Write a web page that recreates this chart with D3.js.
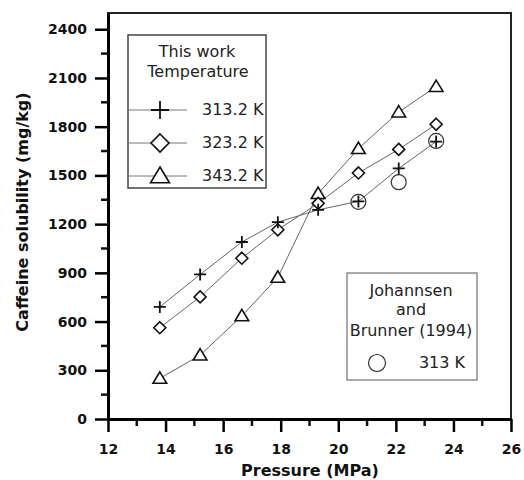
<!DOCTYPE html>
<html>
<head>
<meta charset="utf-8">
<script src="https://cdn.jsdelivr.net/npm/d3@7"></script>
<style>
  body { margin: 0; background: #fff; }
  svg { display: block; font-family: "DejaVu Sans", sans-serif; }
</style>
</head>
<body>
<div id="chart"></div>
<script>
// ── Data ───────────────────────────────────────────────────
var pressure = [13.8, 15.2, 16.65, 17.9, 19.3, 20.7, 22.1, 23.4];
var sol313 = [690, 890, 1090, 1212, 1288, 1340, 1543, 1708];
var sol323 = [562, 752, 990, 1165, 1328, 1515, 1660, 1815];
var sol343 = [250, 393, 635, 872, 1388, 1665, 1890, 2047];
var jbPressure = [20.7, 22.1, 23.4];
var jbSol = [1337, 1458, 1712];
var xTicks = [12, 14, 16, 18, 20, 22, 24, 26];
var yTicks = [0, 300, 600, 900, 1200, 1500, 1800, 2100, 2400];
var seriesLabels = ["313.2 K", "323.2 K", "343.2 K"];

(function () {
  var W = 524, H = 480;
  var m = { top: 13, right: 13, bottom: 61, left: 108 };
  var iW = W - m.left - m.right, iH = H - m.top - m.bottom;

  var svg = d3.select("#chart").append("svg").attr("width", W).attr("height", H);
  var g = svg.append("g").attr("transform", "translate(" + m.left + "," + m.top + ")");

  var x = d3.scaleLinear().domain([12, 26]).range([0, iW]);
  var y = d3.scaleLinear().domain([0, 2500]).range([iH, 0]);

  // frame
  g.append("rect").attr("width", iW).attr("height", iH)
    .attr("fill", "none").attr("stroke", "#222").attr("stroke-width", 2);

  // minor ticks
  var xMinor = d3.range(13, 26, 2), yMinor = d3.range(150, 2500, 300);
  g.selectAll(".xm").data(xMinor).join("line")
    .attr("x1", x).attr("x2", x).attr("y1", iH).attr("y2", iH + 7)
    .attr("stroke", "#111").attr("stroke-width", 2.5);
  g.selectAll(".ym").data(yMinor).join("line")
    .attr("x1", -7).attr("x2", 0).attr("y1", y).attr("y2", y)
    .attr("stroke", "#111").attr("stroke-width", 2.5);

  // axes
  var fmt = d3.format("d");
  var xAxis = g.append("g").attr("transform", "translate(0," + iH + ")")
    .call(d3.axisBottom(x).tickValues(xTicks).tickFormat(fmt).tickSize(13).tickPadding(12).tickSizeOuter(0));
  var yAxis = g.append("g")
    .call(d3.axisLeft(y).tickValues(yTicks).tickFormat(fmt).tickSize(13).tickPadding(8).tickSizeOuter(0));
  [xAxis, yAxis].forEach(function (a) {
    a.select(".domain").attr("stroke", "#000").attr("stroke-width", 3);
    a.selectAll(".tick line").attr("stroke", "#000").attr("stroke-width", 2.5);
    a.selectAll(".tick text").attr("fill", "#111")
      .style("font-family", "'DejaVu Sans', sans-serif")
      .style("font-size", "14px").style("font-weight", "bold");
  });

  // axis titles
  svg.append("text").attr("x", 310).attr("y", 476)
    .attr("text-anchor", "middle").style("font-size", "16px").style("font-weight", "bold")
    .attr("fill", "#111").text("Pressure (MPa)");
  svg.append("text").attr("transform", "translate(28,212) rotate(-90)")
    .attr("text-anchor", "middle").style("font-size", "16px").style("font-weight", "bold")
    .attr("fill", "#111").text("Caffeine solubility (mg/kg)");

  // symbols
  function drawSym(sel, type, size) {
    var h = size / 2;
    if (type === 0) {
      sel.append("path").attr("d", "M" + (-h) + ",0H" + h + "M0," + (-h) + "V" + h)
        .attr("stroke", "#111").attr("stroke-width", 1.8).attr("fill", "none");
    } else if (type === 1) {
      sel.append("path").attr("d", "M0," + (-h) + "L" + h + ",0L0," + h + "L" + (-h) + ",0Z")
        .attr("stroke", "#111").attr("stroke-width", 1.6).attr("fill", "#fff");
    } else if (type === 2) {
      sel.append("path").attr("d", "M0," + (-h) + "L" + (h * 1.05) + "," + (h * 0.75) + "L" + (-h * 1.05) + "," + (h * 0.75) + "Z")
        .attr("stroke", "#111").attr("stroke-width", 1.6).attr("fill", "#fff");
    } else {
      sel.append("circle").attr("r", h).attr("stroke", "#333").attr("stroke-width", 1.2).attr("fill", "none");
    }
  }

  var line = d3.line().x(function (d) { return x(d[0]); }).y(function (d) { return y(d[1]); });
  var series = [sol313, sol323, sol343].map(function (s) {
    return s.map(function (v, i) { return [pressure[i], v]; });
  });

  series.forEach(function (pts) {
    g.append("path").datum(pts).attr("d", line)
      .attr("fill", "none").attr("stroke", "#666").attr("stroke-width", 1);
  });

  // J&B circles (under the crosses)
  jbPressure.forEach(function (p, i) {
    var s = g.append("g").attr("transform", "translate(" + x(p) + "," + y(jbSol[i]) + ")");
    drawSym(s, 3, 15);
  });

  [2, 1, 0].forEach(function (k) {
    series[k].forEach(function (d) {
      var s = g.append("g").attr("transform", "translate(" + x(d[0]) + "," + y(d[1]) + ")");
      drawSym(s, k, k === 2 ? 13 : 12);
    });
  });

  // legend: This work
  var lg = svg.append("g");
  lg.append("rect").attr("x", 128).attr("y", 35).attr("width", 138).attr("height", 153)
    .attr("fill", "#fff").attr("stroke", "#444").attr("stroke-width", 1.5);
  lg.append("text").attr("x", 197).attr("y", 57).attr("text-anchor", "middle")
    .style("font-size", "16px").attr("fill", "#222").text("This work");
  lg.append("text").attr("x", 198).attr("y", 77).attr("text-anchor", "middle")
    .style("font-size", "16px").attr("fill", "#222").text("Temperature");
  seriesLabels.forEach(function (lab, k) {
    var yy = [110, 143, 176][k];
    lg.append("line").attr("x1", 129).attr("x2", 187).attr("y1", yy).attr("y2", yy)
      .attr("stroke", "#777").attr("stroke-width", 1);
    var s = lg.append("g").attr("transform", "translate(160," + yy + ")");
    drawSym(s, k, 18);
    lg.append("text").attr("x", 202).attr("y", yy + 5).style("font-size", "16px")
      .attr("fill", "#222").text(lab);
  });

  // legend: Johannsen and Brunner
  var lj = svg.append("g");
  lj.append("rect").attr("x", 347).attr("y", 273).attr("width", 130).attr("height", 107)
    .attr("fill", "#fff").attr("stroke", "#555").attr("stroke-width", 1);
  ["Johannsen", "and", "Brunner (1994)"].forEach(function (t, i) {
    lj.append("text").attr("x", 411).attr("y", [296, 315, 336][i]).attr("text-anchor", "middle")
      .style("font-size", "16px").attr("fill", "#222").text(t);
  });
  var cs = lj.append("g").attr("transform", "translate(377,363)");
  drawSym(cs, 3, 17);
  lj.append("text").attr("x", 465).attr("y", 368).attr("text-anchor", "end")
    .style("font-size", "16px").attr("fill", "#222").text("313 K");
})();
</script>
</body>
</html>
